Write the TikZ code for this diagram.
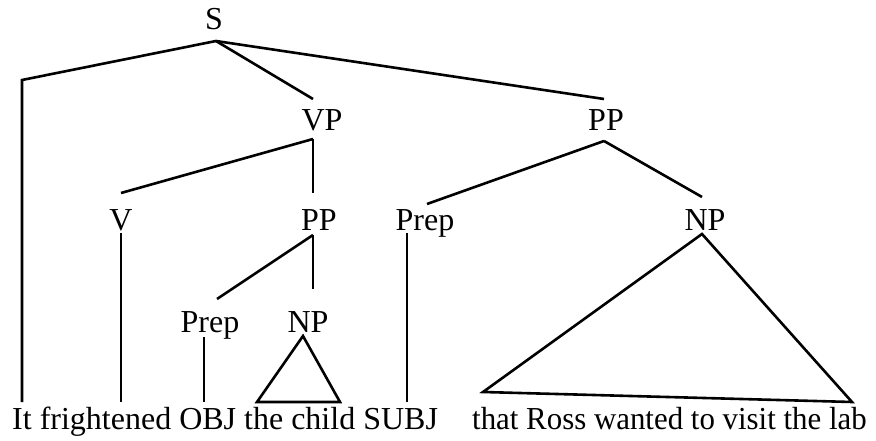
\documentclass[tikz,border=0pt]{standalone}
\usepackage{fontspec}
\setmainfont{Liberation Serif}
\begin{document}
\begin{tikzpicture}[x=1pt,y=-1pt,
  lbl/.style={anchor=base,inner sep=0pt,font=\fontsize{32}{38}\selectfont},
  words/.style={anchor=base west,inner sep=0pt,font=\fontsize{32}{38}\selectfont},
  branch/.style={draw=black,line width=2.6pt,line join=miter,line cap=butt}]
\useasboundingbox[fill=white] (0,0) rectangle (876,441);

% category labels
\node[lbl] (S)    at (214,30)  {S};
\node[lbl] (VP)   at (322,131) {VP};
\node[lbl] (PPr)  at (606,131) {PP};
\node[lbl] (V)    at (121,230) {V};
\node[lbl] (PPm)  at (319,230) {PP};
\node[lbl] (Prepr) at (425,230) {Prep};
\node[lbl] (NPr)  at (705,230) {NP};
\node[lbl] (Prepl) at (210,332) {Prep};
\node[lbl] (NPl)  at (308,332) {NP};

% terminal string
\node[words] (left)  at (12,429)  {It frightened OBJ the child SUBJ};
\node[words] (right) at (472,429) {\scalebox{0.965}[1]{that Ross wanted to visit the lab}};

% attachment points
\coordinate (S-b)    at (216,41);
\coordinate (It-k)   at (22,80);
\coordinate (It-e)   at (22,402);
\coordinate (VP-t)   at (313,99);
\coordinate (VP-b)   at (313,139);
\coordinate (PPr-t)  at (604,99);
\coordinate (PPr-b)  at (604,141);
\coordinate (V-t)    at (121,193);
\coordinate (V-b)    at (121,233);
\coordinate (V-e)    at (121,402);
\coordinate (PPm-t)  at (313,193);
\coordinate (PPm-b)  at (313,235);
\coordinate (Prepr-t) at (427,204);
\coordinate (Prepr-b) at (407,233);
\coordinate (Prepr-e) at (407,402);
\coordinate (NPr-t)  at (702,197);
\coordinate (NPr-b)  at (702,234);
\coordinate (NPr-l)  at (483,392);
\coordinate (NPr-r)  at (852,402);
\coordinate (Prepl-t) at (217,299);
\coordinate (Prepl-b) at (204,337);
\coordinate (Prepl-e) at (204,402);
\coordinate (NPl-t)  at (313,289);
\coordinate (NPl-b)  at (303,336);
\coordinate (NPl-l)  at (257,402);
\coordinate (NPl-r)  at (340,402);

% branches
\draw[branch] (S-b) -- (It-k) -- (It-e);
\draw[branch] (S-b) -- (VP-t);
\draw[branch] (S-b) -- (PPr-t);
\draw[branch] (VP-b) -- (V-t);
\draw[branch] (VP-b) -- (PPm-t);
\draw[branch] (PPr-b) -- (Prepr-t);
\draw[branch] (PPr-b) -- (NPr-t);
\draw[branch] (V-b) -- (V-e);
\draw[branch] (PPm-b) -- (Prepl-t);
\draw[branch] (PPm-b) -- (NPl-t);
\draw[branch] (Prepl-b) -- (Prepl-e);
\draw[branch] (Prepr-b) -- (Prepr-e);
\draw[branch] (NPl-b) -- (NPl-l) -- (NPl-r) -- cycle;
\draw[branch] (NPr-b) -- (NPr-l) -- (NPr-r) -- cycle;
\end{tikzpicture}
\end{document}
